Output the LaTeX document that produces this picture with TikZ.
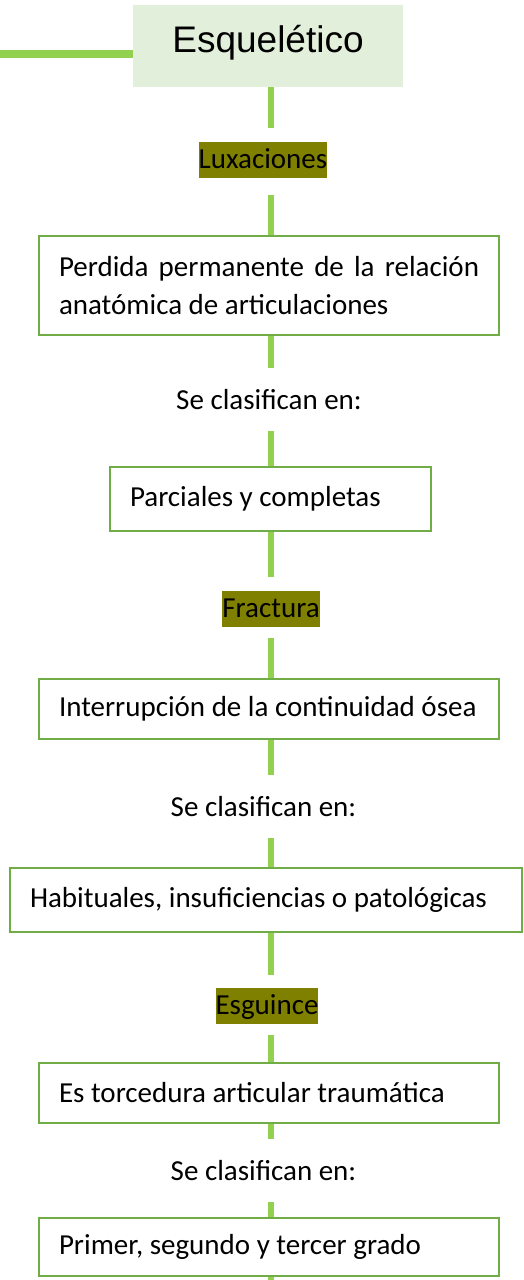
\documentclass[tikz,border=0pt]{standalone}
\usepackage{fontspec}
\setmainfont{Carlito}
\newfontfamily\titlefont{Liberation Sans}
\usepackage{tikz}
\usetikzlibrary{calc}
\usetikzlibrary{positioning}
\definecolor{boxgreen}{HTML}{70AD47}
\definecolor{linkgreen}{HTML}{92D050}
\definecolor{topgreen}{HTML}{E2EFDA}
\definecolor{hilite}{HTML}{808000}
\tikzset{x=1pt, y=-1pt}
\tikzstyle{link} = [-, draw=linkgreen, line width=6pt]
\tikzstyle{caja} = [rectangle, draw=boxgreen, line width=2pt, align=flush left, inner xsep=20pt, font=\fontsize{29}{38}\selectfont]
\tikzstyle{marca} = [rectangle, fill=hilite, inner sep=0pt, text height=26pt, text depth=9.5pt, font=\fontsize{29}{38}\selectfont]
\tikzstyle{nota} = [draw=none, inner sep=0pt, text height=20pt, text depth=0pt, font=\fontsize{29}{38}\selectfont]

\begin{document}
\begin{tikzpicture}
\useasboundingbox (0, 0) rectangle (523, 1280);
\coordinate (eje) at (271, 0);
\coordinate (izq) at (0, 54);
\coordinate (fin) at (271, 1280);
\node [rectangle, fill=topgreen, minimum width=270pt, minimum height=82pt, inner sep=0pt, text height=27pt, text depth=15pt, font=\titlefont\fontsize{37}{44}\selectfont] (top) at (268, 46) {Esquelético};
% luxaciones
\node [marca, anchor=base] (lux) at (263, 168) {Luxaciones};
\node [caja, align=justify, text width=420pt, minimum height=99pt] (perdida) at (269, 285.5) {Perdida permanente de la relación anatómica de articulaciones};
\node [nota, anchor=base] (sc1) at (269, 409) {Se clasifican en:};
\node [caja, text width=281pt, minimum height=64pt] (parciales) at (270.5, 499) {Parciales y completas};
% fractura
\node [marca, anchor=base] (fractura) at (271, 617) {Fractura};
\node [caja, text width=420pt, minimum height=60pt] (interrupcion) at (269, 709) {Interrupción de la continuidad ósea};
\node [nota, anchor=base] (sc2) at (263.5, 816) {Se clasifican en:};
\node [caja, text width=472pt, minimum height=64pt] (habituales) at (266, 900) {Habituales, insuficiencias o patológicas};
% esguince
\node [marca, anchor=base] (esguince) at (267, 1014) {Esguince};
\node [caja, text width=420pt, minimum height=60pt] (torcedura) at (269, 1093) {Es torcedura articular traumática};
\node [nota, anchor=base] (sc3) at (263.5, 1180) {Se clasifican en:};
\node [caja, text width=420pt, minimum height=58pt] (grados) at (269, 1247) {Primer, segundo y tercer grado};
% connectors
\draw [link, line width=8pt] (izq) -- (izq -| top.west);
\draw [link, shorten >=14pt] (top.south -| eje) -- (lux.north -| eje);
\draw [link, shorten <=17pt] (lux.south -| eje) -- (perdida.north -| eje);
\draw [link, shorten >=21pt] (perdida.south -| eje) -- (sc1.north -| eje);
\draw [link, shorten <=22pt] (sc1.south -| eje) -- (parciales.north -| eje);
\draw [link, shorten >=14pt] (parciales.south -| eje) -- (fractura.north -| eje);
\draw [link, shorten <=11pt] (fractura.south -| eje) -- (interrupcion.north -| eje);
\draw [link, shorten >=21pt] (interrupcion.south -| eje) -- (sc2.north -| eje);
\draw [link, shorten <=22pt] (sc2.south -| eje) -- (habituales.north -| eje);
\draw [link, shorten >=13pt] (habituales.south -| eje) -- (esguince.north -| eje);
\draw [link, shorten <=11pt] (esguince.south -| eje) -- (torcedura.north -| eje);
\draw [link, shorten >=21pt] (torcedura.south -| eje) -- (sc3.north -| eje);
\draw [link, shorten <=22pt] (sc3.south -| eje) -- (grados.north -| eje);
\draw [link] (grados.south -| eje) -- (fin);
\end{tikzpicture}
\end{document}
